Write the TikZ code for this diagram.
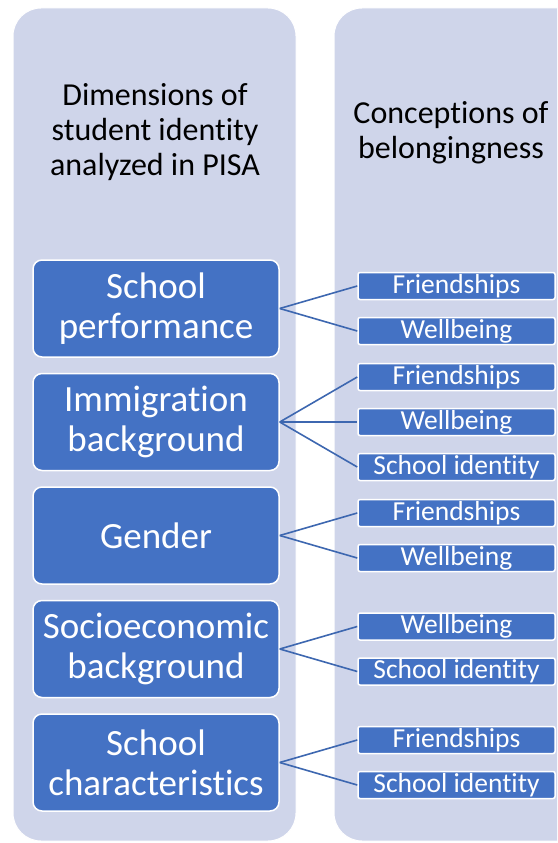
\documentclass[tikz,border=0pt]{standalone}
\usepackage{fontspec}
\setmainfont{Carlito}[Ligatures=CommonOff]
\usetikzlibrary{positioning}
\definecolor{panelfill}{HTML}{CFD5EA}
\definecolor{accent}{HTML}{4472C4}
\tikzset{
    panel/.style={rounded corners=28pt, fill=panelfill, draw=white, line width=1pt},
    headtext/.style={align=center, text=black, font=\fontsize{32}{35}\selectfont},
    dimbox/.style={rectangle, rounded corners=9pt, fill=accent, draw=white, line width=1.5pt,
        text=white, align=center, minimum width=246pt, minimum height=97pt, inner sep=0pt,
        font=\fontsize{37}{40}\selectfont},
    subbox/.style={rectangle, rounded corners=2pt, fill=accent, draw=white, line width=1.5pt,
        text=white, minimum width=197pt, minimum height=27pt, inner sep=0pt,
        font=\fontsize{27.5}{28}\selectfont},
    link/.style={draw=accent!90!black, line width=1.6pt},
}

\begin{document}
\begin{tikzpicture}[x=1pt, y=1pt, node distance=15pt]
    \path[use as bounding box, clip] (0,0) rectangle (557,-843);
    % the two background columns
    \draw[panel] (13,-8) rectangle (296,-841);
    \draw[panel] (334,-8) rectangle (620,-841);
    \node[headtext] (dimtitle) at (155,-132) {Dimensions of\\student identity\\analyzed in PISA};
    \node[headtext] (contitle) at (451,-133) {Conceptions of\\belongingness};

    % dimensions
    \node[dimbox] (perf) at (156,-308.5) {School\\performance};
    \node[dimbox, below=of perf] (immig) {Immigration\\background};
    \node[dimbox, below=of immig] (gender) {Gender};
    \node[dimbox, below=of gender] (ses) {Socioeconomic\\background};
    \node[dimbox, below=of ses] (schchar) {School\\characteristics};

    % conceptions
    \node[subbox, right=77.5pt of perf, yshift=22.5pt] (perf-fr) {Friendships};
    \node[subbox, right=77.5pt of perf, yshift=-22.5pt] (perf-wb) {Wellbeing};
    \node[subbox, right=77.5pt of immig, yshift=45pt] (immig-fr) {Friendships};
    \node[subbox, right=77.5pt of immig] (immig-wb) {Wellbeing};
    \node[subbox, right=77.5pt of immig, yshift=-45pt] (immig-si) {School identity};
    \node[subbox, right=77.5pt of gender, yshift=22.5pt] (gender-fr) {Friendships};
    \node[subbox, right=77.5pt of gender, yshift=-22.5pt] (gender-wb) {Wellbeing};
    \node[subbox, right=77.5pt of ses, yshift=22.5pt] (ses-wb) {Wellbeing};
    \node[subbox, right=77.5pt of ses, yshift=-22.5pt] (ses-si) {School identity};
    \node[subbox, right=77.5pt of schchar, yshift=22.5pt] (schchar-fr) {Friendships};
    \node[subbox, right=77.5pt of schchar, yshift=-22.5pt] (schchar-si) {School identity};

    \draw[link] (perf.east) -- (perf-fr.west);
    \draw[link] (perf.east) -- (perf-wb.west);
    \draw[link] (immig.east) -- (immig-fr.west);
    \draw[link] (immig.east) -- (immig-wb.west);
    \draw[link] (immig.east) -- (immig-si.west);
    \draw[link] (gender.east) -- (gender-fr.west);
    \draw[link] (gender.east) -- (gender-wb.west);
    \draw[link] (ses.east) -- (ses-wb.west);
    \draw[link] (ses.east) -- (ses-si.west);
    \draw[link] (schchar.east) -- (schchar-fr.west);
    \draw[link] (schchar.east) -- (schchar-si.west);
\end{tikzpicture}
\end{document}
